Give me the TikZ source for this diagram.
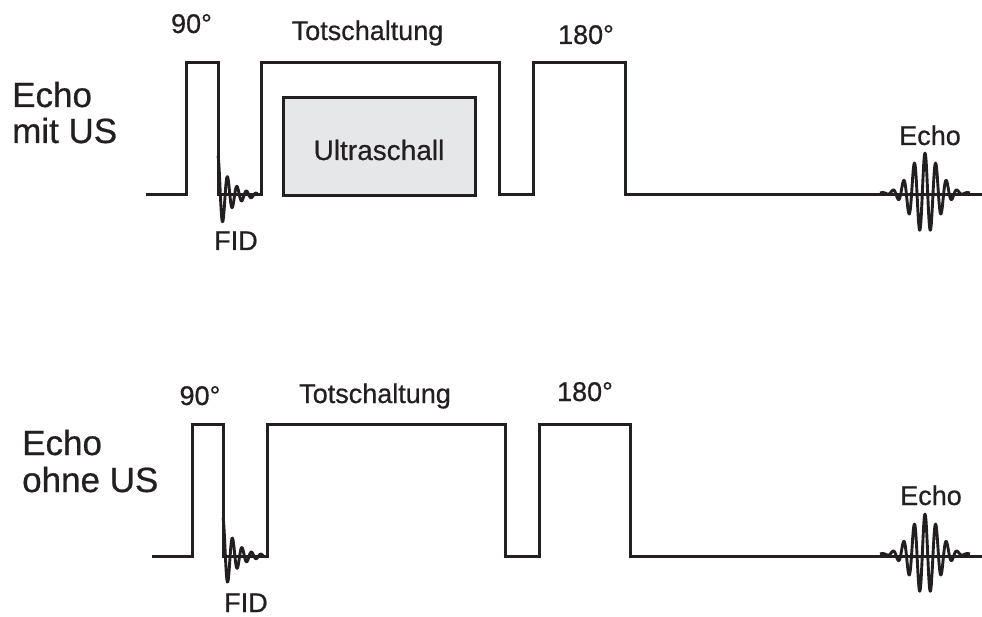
\documentclass[tikz,border=0pt]{standalone}
\usepackage{fontspec}
\setmainfont{Liberation Sans}[FakeBold=0.6]
\newfontfamily\heavy{Liberation Sans}[FakeBold=0.6]
\definecolor{ink}{HTML}{231F20}
\definecolor{boxgray}{HTML}{E6E7E8}
\begin{document}
\begin{tikzpicture}[x=1pt,y=-1pt,
  trace/.style={draw=ink,line width=3pt,line join=miter},
  sig/.style={draw=ink,line width=2.9pt,line join=round},
  small/.style={inner sep=0pt,text=ink,anchor=base,font=\heavy\fontsize{27}{32}\selectfont},
  big/.style={inner sep=0pt,text=ink,anchor=base west,font=\heavy\fontsize{35}{40}\selectfont},
  usbox/.style={draw=ink,fill=boxgray,line width=3pt,minimum width=192pt,minimum height=98pt,inner sep=0pt}]
\useasboundingbox (0,0) rectangle (982,617);

% ---------- top: Echo mit US ----------
\node[usbox] (us) at (379.5,146.5) {};
\node[inner sep=0pt,text=ink,anchor=base,font=\heavy\fontsize{28}{32}\selectfont] (ustext) at (379,160) {Ultraschall};

\draw[trace] (146,195) -- (186,195) -- (186,63) -- (218,63) -- (218,195) -- (261,195)
  -- (261,63) -- (499,63) -- (499,195) -- (533,195) -- (533,63) -- (625,63) -- (625,195) -- (982,195);
\draw[sig] plot[domain=0:40,samples=200] ({218+\x},{195-39*exp(-\x/12.5)*cos(360*\x/9.5)});
\draw[sig] plot[domain=-45:45,samples=300] ({925+\x},{193-40*exp(-(\x*\x)/392)*cos(360*\x/10.7)});

\node[big] (a1) at (12,107) {Echo};
\node[big] (a2) at (12,143) {mit US};
\node[small] (a90) at (191.5,33) {90°};
\node[small] (atot) at (367.5,40) {Totschaltung};
\node[small] (a180) at (586,44) {180°};
\node[small] (afid) at (236,250) {FID};
\node[small] (aecho) at (930,145) {Echo};

% ---------- bottom: Echo ohne US ----------
\draw[trace] (152,556) -- (192,556) -- (192,424) -- (223,424) -- (223,556) -- (267,556)
  -- (267,424) -- (505,424) -- (505,556) -- (539,556) -- (539,424) -- (630,424) -- (630,556) -- (982,556);
\draw[sig] plot[domain=0:40,samples=200] ({223+\x},{556-38*exp(-\x/12.5)*cos(360*\x/9.5)});
\draw[sig] plot[domain=-45:45,samples=300] ({925+\x},{554-40*exp(-(\x*\x)/392)*cos(360*\x/10.7)});

\node[big] (b1) at (22,455) {Echo};
\node[big] (b2) at (22,492) {ohne US};
\node[small] (b90) at (200,405) {90°};
\node[small] (btot) at (375,403) {Totschaltung};
\node[small] (b180) at (585,401) {180°};
\node[small] (bfid) at (246,612) {FID};
\node[small] (becho) at (931,505) {Echo};
\end{tikzpicture}
\end{document}
